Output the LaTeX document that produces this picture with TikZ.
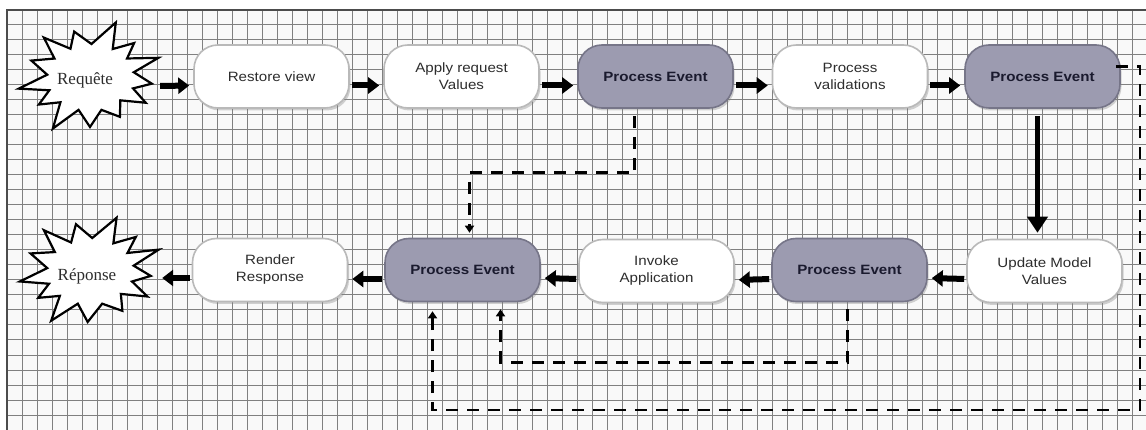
\documentclass[tikz,border=0pt]{standalone}
\usepackage{fontspec}
\newfontfamily\boxfont[FakeStretch=1.12]{Liberation Sans}
\newfontfamily\starfont{Liberation Serif}
\usetikzlibrary{arrows.meta,shadows}
\definecolor{pefill}{RGB}{156,155,176}
\definecolor{pedraw}{RGB}{118,117,136}
\definecolor{petext}{RGB}{26,26,46}
\definecolor{gridcol}{RGB}{128,128,128}
\definecolor{boxtext}{RGB}{45,45,45}
\begin{document}
\begin{tikzpicture}[x=1pt,y=-1pt,
  phase/.style={rounded corners=24pt, minimum width=155pt, minimum height=63pt,
    fill=white, draw=gray!55, line width=1.6pt, align=center, text=boxtext,
    font=\boxfont\fontsize{13.5}{17}\selectfont,
    drop shadow={shadow xshift=1.5pt, shadow yshift=-2.5pt, opacity=0.35, fill=gray}},
  event/.style={phase, fill=pefill, draw=pedraw, text=petext,
    font=\boxfont\bfseries\fontsize{13.5}{17}\selectfont},
  starlabel/.style={minimum width=136pt, minimum height=100pt, inner sep=0pt,
    text=boxtext, font=\starfont\fontsize{17}{20}\selectfont},
  starline/.style={draw=black, fill=white, line width=2.2pt, line join=miter, miter limit=20},
  gridline/.style={gridcol, line width=1pt},
  flow/.style={line width=6pt, -{Triangle[length=11pt,width=16pt]}, shorten <=2pt, shorten >=4pt},
  downflow/.style={line width=5pt, -{Triangle[length=16pt,width=20pt]}, shorten <=7pt, shorten >=6pt},
  dashflow/.style={line width=2.8pt, dash pattern=on 12pt off 9pt,
    -{Triangle[length=7pt,width=9pt]}}
]
% background and grid
\fill[white] (0,0) rectangle (1146,430);
\useasboundingbox (0,0) rectangle (1146,430);
\fill[gray!5] (7,10) rectangle (1146,430);
\foreach \gx in {7,22,...,1146} \draw[gridline] (\gx,10) -- (\gx,430);
\foreach \gy in {10,25,...,430} \draw[gridline] (7,\gy) -- (1146,\gy);
\draw[black!70, line width=1.6pt] (7,430) -- (7,10) -- (1146,10);

% start / end labels
\node[starlabel] (req) at (90,77) {};
\node[starlabel] (rep) at (90,271) {};

\begin{scope}[shift={(req.center)}, x=1.3pt, y=-1pt]
  \draw[starline] (340:56) -- (352:34) -- (8:48) -- (19:35) -- (31:50) -- (45:33)
    -- (60:46) -- (75:34) -- (90:50) -- (105:34) -- (119:59) -- (132:34)
    -- (145:48) -- (157:34) -- (168:56) -- (184:33) -- (200:48) -- (214:33)
    -- (228:53) -- (242:32) -- (255:47) -- (272:33) -- (290:58) -- (302:33)
    -- (315:48) -- (327:34) -- cycle;
\end{scope}
\begin{scope}[shift={(rep.center)}, x=1.3pt, y=-1pt]
  \draw[starline] (338:57) -- (351:34) -- (6:47) -- (18:34) -- (30:51) -- (44:33)
    -- (58:47) -- (74:34) -- (92:51) -- (106:34) -- (121:58) -- (133:34)
    -- (146:48) -- (158:34) -- (169:55) -- (185:33) -- (201:49) -- (215:33)
    -- (229:54) -- (243:32) -- (257:48) -- (273:33) -- (291:57) -- (303:33)
    -- (316:49) -- (328:34) -- cycle;
\end{scope}
\node[starlabel] at ([xshift=-5pt,yshift=-3pt]req.center) {Requête};
\node[starlabel] at ([xshift=-3pt,yshift=-5pt]rep.center) {Réponse};

% top row
\node[phase] (restore) at (271.5,76.5) {Restore view};
\node[phase] (apply)   at (461.5,76.5) {Apply request\\Values};
\node[event] (pe1)     at (655.5,76.5) {Process Event};
\node[phase] (valid)   at (850,76.5)   {Process\\validations};
\node[event] (pe2)     at (1042.5,76.5) {Process Event};

% bottom row
\node[phase] (render) at (270,270)   {Render\\Response};
\node[event] (pe3)    at (462.5,270) {Process Event};
\node[phase] (invoke) at (656.5,271) {Invoke\\Application};
\node[event] (pe4)    at (849.5,270) {Process Event};
\node[phase] (update) at (1044.5,271) {Update Model\\Values};

% solid flow arrows
\draw[flow] ([yshift=-9pt]req.east) -- ([yshift=-9pt]restore.west);
\draw[flow] ([yshift=-9pt]restore.east) -- ([yshift=-9pt]apply.west);
\draw[flow] ([yshift=-9pt]apply.east) -- ([yshift=-9pt]pe1.west);
\draw[flow] ([yshift=-9pt]pe1.east) -- ([yshift=-9pt]valid.west);
\draw[flow] ([yshift=-9pt]valid.east) -- ([yshift=-9pt]pe2.west);
\draw[downflow] ([xshift=-5pt]pe2.south) -- ([xshift=-7pt]update.north);
\draw[flow] ([yshift=-8pt]update.west) -- ([yshift=-8pt]pe4.east);
\draw[flow] ([yshift=-9pt]pe4.west) -- ([yshift=-9pt]invoke.east);
\draw[flow] ([yshift=-8pt]invoke.west) -- ([yshift=-8pt]pe3.east);
\draw[flow] ([yshift=-9pt]pe3.west) -- ([yshift=-9pt]render.east);
\draw[flow] ([yshift=-8pt]render.west) -- ([yshift=-7pt]rep.east);

% dashed event arrows
\coordinate (c3) at (1140,410);
\draw[dashflow] ([xshift=-21pt,yshift=-7pt]pe1.south) -- ++(0,57)
  -| ([xshift=7pt,yshift=5pt]pe3.north);
\draw[dashflow] ([xshift=-2pt,yshift=-7pt]pe4.south) -- ++(0,53)
  -| ([xshift=38pt,yshift=-7pt]pe3.south);
\draw[dashflow] ([xshift=-5pt,yshift=10pt]pe2.east) -| (c3)
  -| ([xshift=-30pt,yshift=-9pt]pe3.south);
\end{tikzpicture}
\end{document}
